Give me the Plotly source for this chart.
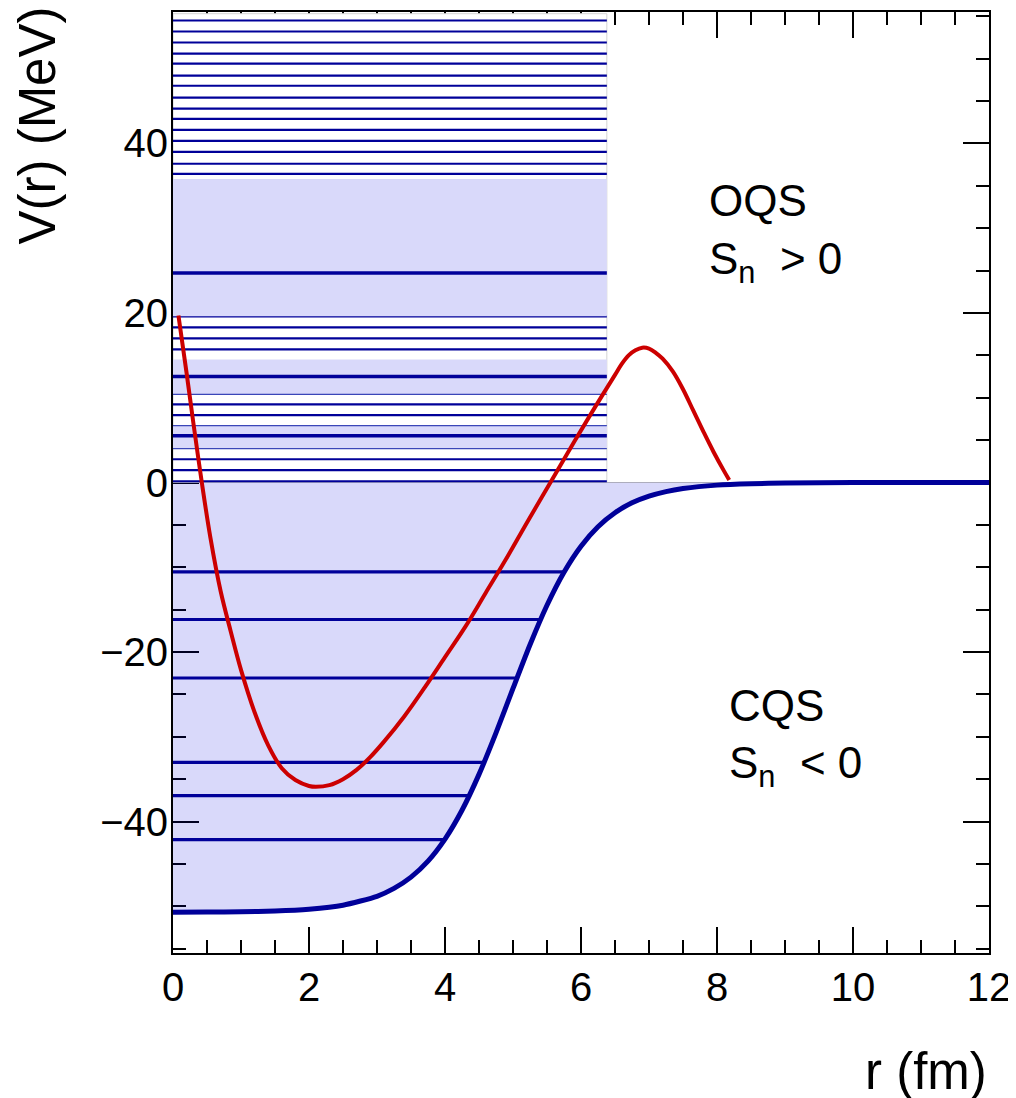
import numpy as np
import plotly.graph_objects as go

# ---------------- data ----------------
# Woods-Saxon-like mean field potential
ws_r = [0, 0.5, 1, 1.5, 2, 2.5, 3, 3.25, 3.5, 3.75, 4, 4.25, 4.5, 4.75, 5, 5.25,
        5.5, 5.75, 6, 6.25, 6.5, 6.75, 7, 7.25, 7.5, 8, 8.5, 9, 10, 11, 12]
ws_V = [-50.69, -50.67, -50.63, -50.54, -50.33, -49.86, -48.81, -47.88, -46.55,
        -44.66, -42.06, -38.66, -34.43, -29.54, -24.29, -19.14, -14.48, -10.58,
        -7.51, -5.21, -3.56, -2.40, -1.61, -1.07, -0.71, -0.31, -0.14, -0.06,
        -0.01, 0.0, 0.0]

# red curve
red_r = [0.08, 0.2, 0.3, 0.42, 0.55, 0.7, 0.85, 1.0, 1.2, 1.4, 1.6, 1.8, 2.0, 2.1,
         2.3, 2.5, 2.7, 2.9, 3.1, 3.4, 3.7, 4.0, 4.3, 4.6, 4.9, 5.2, 5.55, 5.9,
         6.2, 6.5, 6.6, 6.7, 6.8, 6.9, 7.0, 7.1, 7.2, 7.35, 7.5, 7.65, 7.8, 7.95,
         8.1, 8.18]
red_V = [19.7, 12.9, 7.0, 0.2, -6.5, -12.8, -17.6, -22.1, -27.1, -31.0, -33.7,
         -35.1, -35.8, -35.9, -35.7, -35.0, -33.9, -32.4, -30.6, -27.6, -24.2,
         -20.6, -17.0, -13.0, -9.0, -4.8, 0.0, 4.8, 8.8, 12.7, 14.0, 15.0, 15.6,
         15.9, 15.8, 15.3, 14.6, 13.1, 11.0, 8.5, 6.0, 3.6, 1.4, 0.3]

# bound states (MeV)
bound_E = [-10.55, -16.16, -23.06, -33.02, -36.94, -42.12]

# discretised continuum levels (MeV)
cont_E = [0.15, 1.45, 2.74, 7.95, 9.22, 15.71, 17.01, 18.31, 19.6,
          36.4, 37.6, 39.0, 40.3, 41.6, 42.9, 44.1, 45.4, 46.8, 48.0, 49.4,
          50.6, 51.9, 53.2, 54.5]
# partially hidden continuum levels at band edges
edge_E = [4.0, 6.7, 10.4]
# resonance bands (low, high) and resonance centroid energies
band_lo = [4.0, 10.4, 19.6]
band_hi = [6.7, 14.5, 35.8]
res_E = [5.5, 12.5, 24.7]

cont_r_max = 6.38   # extent of continuum box (fm)
cont_E_max = 55.3   # top of continuum box (MeV)

x_range = [0, 12]
y_range = [-55.5, 55.5]

# ---------------- styles ----------------
BLUE = "#000099"
RED = "#CC0000"
LAV = "#D9D9FA"
FONT = "Liberation Sans, Arial, Helvetica, sans-serif"

fig = go.Figure()

def hlines(levels, x0, x1s):
    xs, ys = [], []
    for e, x1 in zip(levels, x1s):
        xs += [x0, x1, None]
        ys += [e, e, None]
    return xs, ys

# white continuum box
fig.add_trace(go.Scatter(
    x=[0, cont_r_max, cont_r_max, 0, 0], y=[0, 0, cont_E_max, cont_E_max, 0],
    mode="lines", fill="toself", fillcolor="white",
    line=dict(color="#D4D4D4", width=1), hoverinfo="skip", showlegend=False))

# baseline of the continuum / red curve
fig.add_trace(go.Scatter(
    x=[0, max(red_r)], y=[0, 0], mode="lines",
    line=dict(color="#BBBBBB", width=1), hoverinfo="skip", showlegend=False))

# continuum lines
xs, ys = hlines(cont_E, 0, [cont_r_max] * len(cont_E))
fig.add_trace(go.Scatter(x=xs, y=ys, mode="lines",
                         line=dict(color=BLUE, width=2.2), hoverinfo="skip",
                         showlegend=False))

# resonance bands
for lo, hi in zip(band_lo, band_hi):
    fig.add_trace(go.Scatter(
        x=[0, cont_r_max, cont_r_max, 0, 0], y=[lo, lo, hi, hi, lo],
        mode="lines", fill="toself", fillcolor=LAV,
        line=dict(width=0, color=LAV), hoverinfo="skip", showlegend=False))

# band-edge thin lines
xs, ys = hlines(edge_E, 0, [cont_r_max] * len(edge_E))
fig.add_trace(go.Scatter(x=xs, y=ys, mode="lines",
                         line=dict(color="#3A46B8", width=1.2), hoverinfo="skip",
                         showlegend=False))

# resonance lines
xs, ys = hlines(res_E, 0, [cont_r_max] * len(res_E))
fig.add_trace(go.Scatter(x=xs, y=ys, mode="lines",
                         line=dict(color=BLUE, width=3.5), hoverinfo="skip",
                         showlegend=False))

# bound region fill (semi-transparent so that axis ticks show through)
fig.add_trace(go.Scatter(
    x=ws_r + [x_range[1], 0], y=ws_V + [0, 0], mode="lines", fill="toself",
    fillcolor="rgba(0,0,221,0.149)", line=dict(width=0, color="rgba(0,0,0,0)"),
    hoverinfo="skip", showlegend=False))

# bound state lines, ending on the potential
mono = [i for i in range(len(ws_V)) if i == 0 or ws_V[i] > ws_V[i - 1]]
r_end = np.interp(bound_E, [ws_V[i] for i in mono], [ws_r[i] for i in mono])
xs, ys = hlines(bound_E, 0, list(r_end))
fig.add_trace(go.Scatter(x=xs, y=ys, mode="lines",
                         line=dict(color=BLUE, width=3.2), hoverinfo="skip",
                         showlegend=False))

# potential
fig.add_trace(go.Scatter(x=ws_r, y=ws_V, mode="lines",
                         line=dict(color=BLUE, width=5, shape="spline", smoothing=0.6),
                         hoverinfo="skip", showlegend=False))

# red curve
fig.add_trace(go.Scatter(x=red_r, y=red_V, mode="lines",
                         line=dict(color=RED, width=4, shape="spline", smoothing=1.0),
                         hoverinfo="skip", showlegend=False))

axis_common = dict(
    showline=True, linecolor="black", linewidth=2, mirror="allticks",
    ticks="inside", tickcolor="black", tickwidth=1.6, ticklen=26,
    showgrid=False, zeroline=False, layer="below traces",
    tickfont=dict(family=FONT, size=40, color="black"),
)

fig.update_xaxes(range=x_range, dtick=2, tick0=0,
                 minor=dict(dtick=0.5, ticks="inside", ticklen=13,
                            tickcolor="black", tickwidth=1.6),
                 ticklabelstandoff=-2, **axis_common)
fig.update_yaxes(range=y_range, dtick=20, tick0=0,
                 minor=dict(dtick=5, ticks="inside", ticklen=13,
                            tickcolor="black", tickwidth=1.6),
                 ticklabelstandoff=-5, **axis_common)

ann_font = dict(family=FONT, size=44, color="black")
fig.update_layout(
    width=1016, height=1098,
    # page body has an 8px margin; plot area sits at x 173-989, y 10-953
    margin=dict(l=165, r=35, t=2, b=153),
    paper_bgcolor="white", plot_bgcolor="white",
    annotations=[
        dict(text="V(r) (MeV)", xref="paper", yref="paper", x=-0.166, y=1.0075,
             xanchor="center", yanchor="top", textangle=-90, showarrow=False,
             font=dict(family=FONT, size=51, color="black")),
        dict(text="r (fm)", xref="paper", yref="paper", x=1.0, y=-0.126,
             xanchor="right", yanchor="middle", showarrow=False,
             font=dict(family=FONT, size=51, color="black")),
        dict(text="OQS", x=7.85, y=33.3, xanchor="left", yanchor="middle",
             showarrow=False, font=ann_font),
        dict(text="S<sub>n</sub> &nbsp;> 0", x=7.85, y=26.0, xanchor="left",
             yanchor="middle", showarrow=False, font=ann_font),
        dict(text="CQS", x=8.14, y=-26.3, xanchor="left", yanchor="middle",
             showarrow=False, font=ann_font),
        dict(text="S<sub>n</sub> &nbsp;< 0", x=8.14, y=-33.4, xanchor="left",
             yanchor="middle", showarrow=False, font=ann_font),
    ],
)

fig.write_html("out.html")
